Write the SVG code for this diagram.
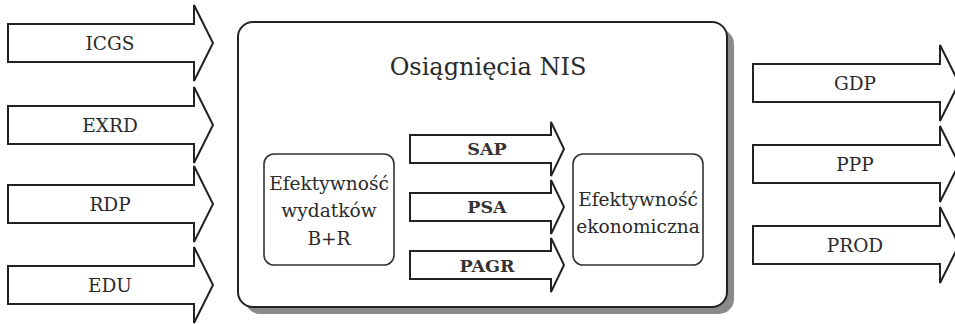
<svg xmlns="http://www.w3.org/2000/svg" width="955" height="324" viewBox="0 0 955 324">
<style>
.ar{fill:#fff;stroke:#222;stroke-width:2;stroke-linejoin:miter}
.bx{fill:#fff;stroke:#333;stroke-width:1.6}
text{font-family:'DejaVu Serif','Liberation Serif',serif;fill:#2a2a2a;text-anchor:middle}
.lb{font-size:18.5px}
.il{font-size:17.5px;font-weight:bold;fill:#333}
.bt{font-size:18.6px}
</style>
<rect width="955" height="324" fill="#fff"/>
<g id="main">
<rect x="245" y="29" width="489" height="285" rx="15" fill="#8a8a8a"/>
<rect x="238" y="22" width="489" height="285" rx="15" fill="#fff" stroke="#222" stroke-width="2"/>
<text x="488" y="75" font-size="24">Osiągnięcia NIS</text>
</g>
<g id="connectors">
<g id="in-ICGS"><path class="ar" d="M8,24 H194 V5 L213,43 L194,81 V62 H8 Z"/><text class="lb" x="110" y="50">ICGS</text></g>
<g id="in-EXRD"><path class="ar" d="M8,106 H194 V87 L213,125 L194,163 V144 H8 Z"/><text class="lb" x="110" y="132">EXRD</text></g>
<g id="in-RDP"><path class="ar" d="M8,185 H194 V166 L213,204 L194,242 V223 H8 Z"/><text class="lb" x="110" y="211">RDP</text></g>
<g id="in-EDU"><path class="ar" d="M8,266 H194 V247 L213,285 L194,323 V304 H8 Z"/><text class="lb" x="110" y="292">EDU</text></g>
<g id="mid-SAP"><path class="ar" d="M410,135 H551 V122 L564,149 L551,176 V163 H410 Z"/><text class="il" x="487" y="155">SAP</text></g>
<g id="mid-PSA"><path class="ar" d="M410,193 H551 V180 L564,207 L551,234 V221 H410 Z"/><text class="il" x="487" y="213">PSA</text></g>
<g id="mid-PAGR"><path class="ar" d="M410,251 H551 V238 L564,265 L551,292 V279 H410 Z"/><text class="il" x="487" y="272">PAGR</text></g>
<g id="out-GDP"><path class="ar" d="M753,64 H940 V45 L959,83 L940,121 V102 H753 Z"/><text class="lb" x="855" y="90">GDP</text></g>
<g id="out-PPP"><path class="ar" d="M753,145 H940 V126 L959,164 L940,202 V183 H753 Z"/><text class="lb" x="855" y="171">PPP</text></g>
<g id="out-PROD"><path class="ar" d="M753,226 H940 V207 L959,245 L940,283 V264 H753 Z"/><text class="lb" x="855" y="252">PROD</text></g>
</g>
<g id="efw">
<rect class="bx" x="264" y="154" width="130" height="111" rx="10"/>
<text class="bt" x="329" y="190">Efektywność</text>
<text class="bt" x="329" y="217">wydatków</text>
<text class="bt" x="329" y="245">B+R</text>
</g>
<g id="efe">
<rect class="bx" x="573" y="154" width="130" height="111" rx="10"/>
<text class="bt" x="638" y="206">Efektywność</text>
<text class="bt" x="638" y="233">ekonomiczna</text>
</g>
</svg>
